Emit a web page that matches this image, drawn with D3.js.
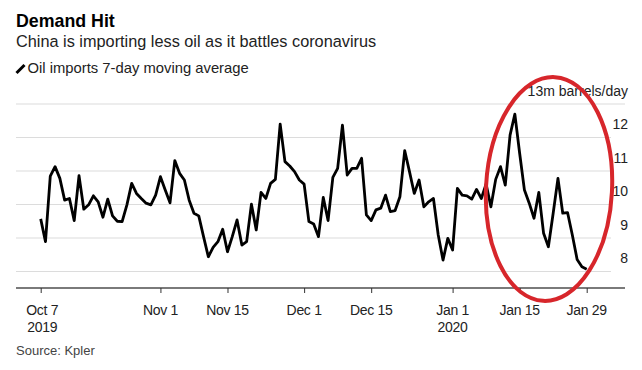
<!DOCTYPE html>
<html><head><meta charset="utf-8">
<script src="https://cdn.jsdelivr.net/npm/d3@7"></script>
<style>
html,body{margin:0;padding:0;background:#fff;}
text{font-family:"Liberation Sans",Arial,sans-serif;}
</style></head>
<body>
<svg id="chart" width="642" height="370"></svg>
<script>
// ---- data ----
const startDate = "2019-10-07";
const importValues = [
 9.57, 8.89, 10.85, 11.13, 10.78, 10.13, 10.18, 9.52, 10.86, 9.86,
 9.99, 10.26, 10.08, 9.62, 10.16, 9.66, 9.50, 9.49, 9.99, 10.63,
 10.33, 10.18, 10.04, 9.99, 10.28, 10.83, 10.43, 10.05, 11.31, 10.93,
 10.73, 10.13, 9.74, 9.66, 9.04, 8.44, 8.72, 8.89, 9.26, 8.59,
 9.04, 9.54, 8.79, 8.89, 10.01, 9.24, 10.36, 10.18, 10.63, 10.75,
 12.40, 11.28, 11.15, 10.98, 10.73, 10.61, 9.49, 9.42, 9.04, 10.21,
 9.52, 10.81, 11.08, 12.37, 10.88, 11.08, 11.08, 11.38, 9.69, 9.52,
 9.84, 9.89, 10.28, 9.79, 9.82, 10.23, 11.61, 10.98, 10.33, 10.73,
 9.93, 10.08, 10.18, 9.09, 8.34, 8.99, 8.64, 10.48, 10.28, 10.26,
 10.16, 10.45, 10.18, 10.61, 9.93, 10.75, 11.13, 10.58, 12.07, 12.70,
 11.53, 10.43, 10.04, 9.59, 10.36, 9.14, 8.74, 9.74, 10.78, 9.74,
 9.76, 9.09, 8.36, 8.14, 8.07
];
const xTickDates = ["2019-10-07","2019-11-01","2019-11-15","2019-12-01","2019-12-15","2020-01-01","2020-01-15","2020-01-29"];
const xTickLabels = [["Oct 7","2019"],["Nov 1"],["Nov 15"],["Dec 1"],["Dec 15"],["Jan 1","2020"],["Jan 15"],["Jan 29"]];
const yTicks = [8, 9, 10, 11, 12, 13];
const yUnit = "m barrels/day";
const title = "Demand Hit";
const subtitle = "China is importing less oil as it battles coronavirus";
const legendLabel = "Oil imports 7-day moving average";
const source = "Source: Kpler";

// ---- build ----
const parse = d3.utcParse("%Y-%m-%d");
const t0 = parse(startDate);
const data = importValues.map((v, i) => ({date: d3.utcDay.offset(t0, i), value: v}));

const svg = d3.select("#chart");
const x = d3.scaleUtc()
  .domain(d3.extent(data, d => d.date))
  .range([40.7, 586.7]);
const y = d3.scaleLinear().domain([7.5, 13]).range([288.25, 104]);

// title block
svg.append("text").attr("x", 16).attr("y", 26.5)
  .attr("font-size", 17.8).attr("font-weight", "bold").attr("fill", "#000").text(title);
svg.append("text").attr("x", 16).attr("y", 47)
  .attr("font-size", 16.3).attr("fill", "#222").text(subtitle);
svg.append("line").attr("x1", 16.5).attr("y1", 73).attr("x2", 24.5).attr("y2", 65)
  .attr("stroke", "#000").attr("stroke-width", 3).attr("stroke-linecap", "butt");
svg.append("text").attr("x", 27.5).attr("y", 73)
  .attr("font-size", 14.8).attr("fill", "#222").text(legendLabel);

// gridlines
svg.append("g").selectAll("line").data(yTicks).join("line")
  .attr("x1", 16).attr("x2", d => d === 13 ? 625 : 611)
  .attr("y1", d => y(d)).attr("y2", d => y(d))
  .attr("stroke", "#dcdcdc").attr("stroke-width", 1.2);

// y labels
svg.append("g").selectAll("text").data(yTicks).join("text")
  .attr("x", 628).attr("y", d => y(d) - 8.5)
  .attr("text-anchor", "end").attr("font-size", 14).attr("fill", "#222")
  .text(d => d === 13 ? d + yUnit : d);

// x axis
const xAxis = d3.axisBottom(x)
  .tickValues(xTickDates.map(parse))
  .tickSize(5).tickFormat("");
const gx = svg.append("g").attr("transform", "translate(0,288)").call(xAxis);
gx.select(".domain").remove();
gx.selectAll(".tick line").attr("stroke", "#333").attr("stroke-width", 1);
svg.insert("line", "g").attr("x1", 16).attr("x2", 625).attr("y1", 288).attr("y2", 288)
  .attr("stroke", "#7a7a7a").attr("stroke-width", 2);
const tl = svg.append("g");
xTickDates.forEach((ds, i) => {
  const t = tl.append("text").attr("x", x(parse(ds))).attr("y", 314.5)
    .attr("text-anchor", "middle").attr("font-size", 14).attr("fill", "#222")
    .attr("letter-spacing", -0.3);
  xTickLabels[i].forEach((s, j) => {
    t.append("tspan").attr("x", x(parse(ds)) + (i === 0 ? 1.5 : 0)).attr("dy", j === 0 ? 0 : 17).text(s);
  });
});

// line
const line = d3.line().x(d => x(d.date)).y(d => y(d.value)).curve(d3.curveLinear);
svg.append("path").datum(data).attr("d", line)
  .attr("fill", "none").attr("stroke", "#000").attr("stroke-width", 2.8)
  .attr("stroke-linejoin", "round");

// source
svg.append("text").attr("x", 16).attr("y", 355)
  .attr("font-size", 13).attr("fill", "#444").text(source);

// red annotation ellipse
svg.append("ellipse").attr("cx", 549).attr("cy", 189).attr("rx", 63).attr("ry", 112)
  .attr("transform", "rotate(3,549,189)")
  .attr("fill", "none").attr("stroke", "#d7262b").attr("stroke-width", 4);
</script>
</body></html>
